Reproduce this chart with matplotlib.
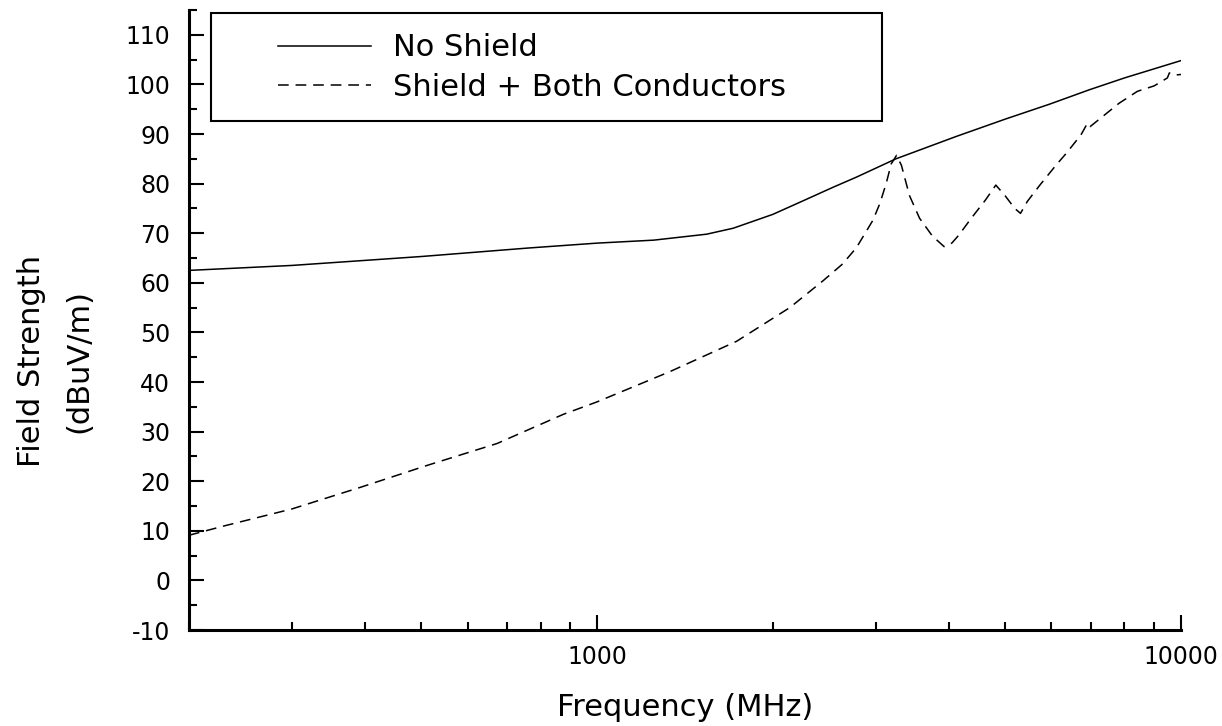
import matplotlib
matplotlib.use("Agg")
import matplotlib.pyplot as plt
from matplotlib.ticker import LogLocator, MultipleLocator, FuncFormatter, NullFormatter
from matplotlib.patches import Rectangle

# ---- data ----
freq_no_shield = [200, 300, 500, 760, 1000, 1250, 1540, 1710, 2000, 2250, 2540,
                  2780, 3250, 4120, 5000, 5950, 6960, 8000, 10000]
no_shield = [62.5, 63.5, 65.3, 67.0, 68.0, 68.6, 69.8, 71.0, 73.8, 76.5, 79.3,
             81.3, 85.0, 89.5, 93.0, 96.0, 98.9, 101.3, 104.8]

freq_shield = [200, 230, 300, 394, 512, 674, 876, 1000, 1333, 1733, 2138, 2437,
               2633, 2781, 2967, 3050, 3126, 3190, 3257, 3320, 3427, 3567, 3753,
               3929, 4050, 4163, 4372, 4619, 4818, 4994, 5191, 5310, 5455, 5732,
               6107, 6360, 6738, 6917, 6990, 7337, 7834, 8419, 8995, 9476, 9550,
               9650, 9800, 10000]
shield_both = [9.1, 11.0, 14.4, 18.8, 23.2, 27.6, 33.5, 36.0, 42.1, 48.2, 55.0, 60.4,
               63.8, 67.1, 72.6, 76.0, 80.0, 84.0, 85.7, 83.7, 77.6, 73.0, 69.4,
               67.3, 68.0, 69.6, 73.0, 76.6, 79.7, 77.6, 75.0, 74.0, 76.4, 79.7,
               83.7, 86.1, 89.8, 92.2, 91.5, 93.5, 96.2, 98.6, 99.7, 101.3, 102.3,
               102.3, 101.9, 102.0]

series_labels = ["No Shield", "Shield + Both Conductors"]
x_label = "Frequency (MHz)"
y_label = "Field Strength\n(dBuV/m)"

plt.rcParams["font.family"] = ["DejaVu Sans"]
plt.rcParams["axes.unicode_minus"] = False

W, H = 1222, 726
fig = plt.figure(figsize=(W / 100, H / 100), dpi=100)
ax = fig.add_axes([189 / W, 1 - 630 / H, (1181 - 189) / W, (630 - 10) / H])

ax.plot(freq_no_shield, no_shield, color="black", lw=1.1, label=series_labels[0])
ax.plot(freq_shield, shield_both, color="black", lw=1.1, dashes=(7, 4.5),
        label=series_labels[1])

ax.set_xscale("log")
ax.set_xlim(200, 10000)
ax.set_ylim(-10, 115)

ax.xaxis.set_major_locator(LogLocator(base=10))
ax.xaxis.set_minor_locator(LogLocator(base=10, subs=range(2, 10)))
ax.xaxis.set_major_formatter(FuncFormatter(lambda v, p: f"{v:.0f}"))
ax.xaxis.set_minor_formatter(NullFormatter())
ax.yaxis.set_major_locator(MultipleLocator(10))
ax.yaxis.set_minor_locator(MultipleLocator(5))

for s in ["top", "right"]:
    ax.spines[s].set_visible(False)
for s in ["left", "bottom"]:
    ax.spines[s].set_linewidth(2.2)

ax.tick_params(which="both", direction="in", width=1.5, colors="black")
ax.tick_params(which="major", length=10.8)
ax.tick_params(which="minor", length=5.8)
ax.tick_params(axis="y", which="major", pad=13.5, labelsize=17)
ax.tick_params(axis="x", which="major", pad=11, labelsize=17)

ax.set_xlabel(x_label, fontsize=22)
ax.xaxis.set_label_coords(0.5, -(716 - 630) / 620)
ax.xaxis.label.set_verticalalignment("baseline")
ax.set_ylabel(y_label, fontsize=22, linespacing=1.8)
ax.yaxis.set_label_coords(-(189 - 93) / 992, (630 - 361) / 620)

# legend
leg = ax.legend(loc="upper left", bbox_to_anchor=(278 / W, 1 - 33.5 / H),
                bbox_transform=fig.transFigure, frameon=False, fontsize=22,
                borderpad=0, borderaxespad=0, handlelength=3.04,
                handletextpad=0.72, labelspacing=0.34)
leg.set_zorder(6)
frame = Rectangle((211 / W, 1 - 120.7 / H), (881.7 - 211) / W, (120.7 - 13.3) / H,
                  transform=fig.transFigure, facecolor="white", edgecolor="black",
                  lw=1.5, zorder=5, clip_on=False)
ax.add_patch(frame)

fig.savefig("out.png", dpi=100)
